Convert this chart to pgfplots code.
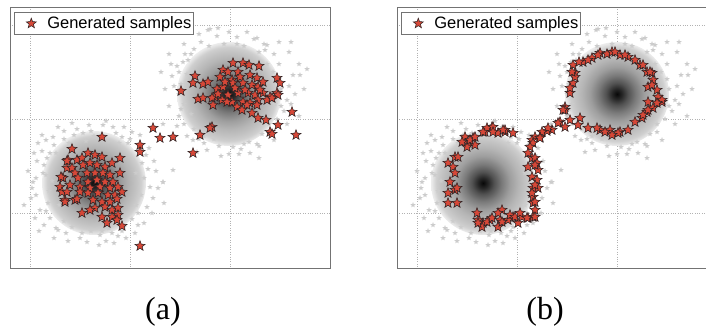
\documentclass[border=0pt]{standalone}
\usepackage{pgfplots}
\pgfplotsset{compat=1.18}
\usepackage{pgfplotstable}
\usepackage{fontspec}
\setmainfont{Liberation Serif}
\newfontfamily\lsans{Liberation Sans}

\definecolor{starred}{RGB}{214,72,56}
\definecolor{staredge}{RGB}{50,35,35}

\pgfdeclareplotmark{fstar}{%
  \pgfpathmoveto{\pgfpointpolar{90}{\pgfplotmarksize}}%
  \pgfpathlineto{\pgfpointpolar{126}{0.42\pgfplotmarksize}}%
  \pgfpathlineto{\pgfpointpolar{162}{\pgfplotmarksize}}%
  \pgfpathlineto{\pgfpointpolar{198}{0.42\pgfplotmarksize}}%
  \pgfpathlineto{\pgfpointpolar{234}{\pgfplotmarksize}}%
  \pgfpathlineto{\pgfpointpolar{270}{0.42\pgfplotmarksize}}%
  \pgfpathlineto{\pgfpointpolar{306}{\pgfplotmarksize}}%
  \pgfpathlineto{\pgfpointpolar{342}{0.42\pgfplotmarksize}}%
  \pgfpathlineto{\pgfpointpolar{18}{\pgfplotmarksize}}%
  \pgfpathlineto{\pgfpointpolar{54}{0.42\pgfplotmarksize}}%
  \pgfpathclose
  \pgfusepathqfillstroke}
\pgfdeclareplotmark{fstarfill}{%
  \pgfpathmoveto{\pgfpointpolar{90}{\pgfplotmarksize}}%
  \pgfpathlineto{\pgfpointpolar{126}{0.42\pgfplotmarksize}}%
  \pgfpathlineto{\pgfpointpolar{162}{\pgfplotmarksize}}%
  \pgfpathlineto{\pgfpointpolar{198}{0.42\pgfplotmarksize}}%
  \pgfpathlineto{\pgfpointpolar{234}{\pgfplotmarksize}}%
  \pgfpathlineto{\pgfpointpolar{270}{0.42\pgfplotmarksize}}%
  \pgfpathlineto{\pgfpointpolar{306}{\pgfplotmarksize}}%
  \pgfpathlineto{\pgfpointpolar{342}{0.42\pgfplotmarksize}}%
  \pgfpathlineto{\pgfpointpolar{18}{\pgfplotmarksize}}%
  \pgfpathlineto{\pgfpointpolar{54}{0.42\pgfplotmarksize}}%
  \pgfpathclose
  \pgfusepathqfill}
\pgfdeclareradialshading{blobshade}{\pgfpointorigin}{%
  color(0bp)=(black!97); color(2.4bp)=(black!85); color(5.3bp)=(black!68);
  color(9bp)=(black!52); color(13bp)=(black!38); color(17bp)=(black!29);
  color(20bp)=(black!24); color(22.6bp)=(black!19); color(25bp)=(black!7);
  color(50bp)=(white)}
\pgfdeclareplotmark{blob}{%
  \pgfpathcircle{\pgfpointorigin}{\pgfplotmarksize}%
  \pgfshadepath{blobshade}{0}%
  \pgfusepath{}}

% gray sample cloud fringe, offsets from blob centre (px, y down)
\pgfplotstableread{
dx dy
-56 -40
-51 -10
-61 -1
-54 27
-36 47
-14 55
-7 59
6 52
56 4
69 -1
41 50
9 -58
19 -56
-11 -50
-41 -46
38 -51
53 24
59 15
-48 -43
-58 12
-47 -25
-45 8
-50 -18
-44 35
-28 50
-22 44
-30 -52
-20 -48
0 -47
28 -46
45 -38
48 -20
50 -5
47 12
44 30
30 44
18 50
-3 48
12 58
-46 20
-52 -32
-40 -38
-30 38
52 -28
36 -44
-62 5
-57 -22
24 53
-17 -54
62 -12
44 42
-38 -30
38 36
-42 -2
42 -10
-35 22
25 -40
-8 -42
15 45
-25 -40
-60 -30
-63 15
-59 35
-50 42
-40 55
-26 58
5 62
20 60
32 55
50 40
58 30
64 5
60 -22
55 -35
46 -48
30 -56
12 -62
-5 -58
-22 -60
-36 -56
-52 -48
-66 -12
-48 -8
-44 -30
-48 28
-38 45
-12 50
8 48
28 48
42 22
46 -30
34 -40
-3 -52
-55 48
70 20
-70 22
22 -50
-30 -44
-58 -5
54 -14
}\fringeL
\pgfplotstableread{
dx dy
-21 -64
-11 -66
8 -57
28 -56
38 -49
-46 -32
-41 -34
64 -19
71 -19
58 6
55 17
21 59
-36 46
4 53
-25 49
33 40
-52 -28
-57 -18
-19 -65
-12 -58
25 -55
35 -50
-56 76
-66 88
-50 0
-48 15
-45 30
-30 45
-10 52
12 55
40 38
48 25
52 -5
50 -30
45 -40
-35 -45
-5 -50
15 -48
-55 -8
-42 -20
-38 20
60 -8
-28 -52
30 -42
46 10
-44 -40
20 48
-15 45
44 -22
-50 -22
0 60
38 -30
-35 35
28 50
62 10
-60 -40
-64 -5
-60 12
-52 32
-42 42
-22 56
-8 62
10 60
30 52
45 46
58 30
66 0
70 -30
60 -42
50 -52
18 -62
0 -62
-30 -60
-45 -50
-58 -30
-48 -10
-45 10
-38 -40
-20 -48
8 -50
36 -44
50 -15
52 12
40 30
15 50
-25 42
-50 22
75 -5
-68 -22
62 -52
78 -25
30 64
-32 58
-66 30
70 22
}\fringeR

% generated samples, panel (a)
\pgfplotstableread{
x y
233 63
243 63
249 65
259 66
223 70
228 72
238 72
195 76
193 83
203 84
208 82
220 77
232 80
240 77
250 75
257 78
263 82
277 78
280 83
181 91
217 89
223 87
233 83
243 83
252 85
258 87
215 97
228 95
238 93
248 93
255 95
263 93
270 97
277 93
278 95
198 99
203 98
212 98
222 100
232 102
243 102
250 103
258 100
267 100
272 98
213 105
237 107
247 105
257 105
242 110
252 113
258 118
266 120
278 125
270 132
272 134
292 112
296 135
212 127
210 128
200 135
173 137
193 153
225 82
235 88
245 90
227 102
218 94
260 90
153 128
160 138
140 145
140 152
140 246
102 137
72 149
88 153
95 155
102 157
120 158
68 160
77 160
82 158
83 165
90 163
97 165
105 167
112 163
67 168
72 168
75 173
87 173
95 173
103 173
110 175
120 173
63 178
78 178
88 182
97 180
105 182
113 182
60 187
70 185
80 187
90 188
100 187
110 188
118 187
122 192
62 192
67 192
80 192
88 193
98 193
108 195
115 195
65 200
75 200
93 200
102 202
110 202
117 199
95 208
105 207
112 210
118 208
82 213
90 210
102 217
112 217
118 215
107 223
117 220
122 226
67 161
61 177
65 202
77 199
}\starsA

% generated samples, panel (b)
\pgfplotstableread{
x y
573 65
575 73
583 62
592 58
600 53
607 54
612 52
620 55
628 57
635 60
640 65
647 72
652 73
653 80
648 87
657 90
658 97
662 102
648 102
653 108
647 112
642 118
635 122
628 130
620 132
610 130
600 130
597 128
588 128
580 118
578 125
570 120
560 122
565 107
565 110
570 93
573 83
575 77
579 62
572 72
588 60
598 55
615 52
625 55
643 65
650 72
652 85
662 100
657 103
648 110
643 115
618 133
612 135
605 132
565 127
563 110
570 88
558 123
552 130
547 131
548 128
542 132
540 137
535 137
532 140
533 143
540 138
530 147
528 153
532 158
535 158
537 163
538 170
532 177
537 180
533 188
538 188
533 197
533 203
535 210
533 217
528 167
535 165
535 185
532 193
535 202
528 218
522 217
518 223
513 217
508 220
500 220
498 227
490 220
483 223
482 227
478 220
477 213
502 210
478 223
487 222
492 218
498 213
502 222
510 215
515 217
520 213
527 218
535 217
455 157
448 163
453 167
455 173
450 182
448 193
455 190
448 203
457 203
457 188
458 157
465 137
468 143
473 138
475 145
467 147
470 140
462 142
485 132
492 127
498 133
505 132
513 133
487 128
493 127
505 130
475 137
483 132
503 130
493 132
}\starsB

\pgfplotsset{
  panel/.style={
    width=320pt, height=261pt, scale only axis,
    y dir=reverse, ymin=7, ymax=268,
    ytick={25,119,213},
    xticklabels={}, yticklabels={},
    major tick length=0pt,
    grid=major,
    grid style={dotted, black!30, line width=0.6pt},
    axis line style={black!55, line width=0.7pt},
    legend cell align=left,
    legend style={at={(0.0125,0.981)}, anchor=north west,
      draw=black!55, fill=white, line width=0.6pt,
      font=\lsans\fontsize{16.5}{19}\selectfont,
      inner xsep=1pt, inner ysep=3.5pt,
      nodes={inner sep=1pt}},
    legend image code/.code={%
      \path[draw=none, fill=none] (0pt,-4pt) rectangle (31pt,4pt);
      \draw[##1] plot coordinates {(16pt,0pt)};},
  },
  gen/.style={only marks, mark=fstar, mark size=5.3pt,
    mark options={fill=starred, draw=staredge, line width=0.55pt}},
  cloud/.style={only marks, mark=fstarfill, mark size=2.9pt,
    mark options={fill=black!20}, forget plot},
}

\begin{document}
\begin{tikzpicture}[x=1pt,y=1pt]
\useasboundingbox (0,0) rectangle (706,328);
\clip (0,0) rectangle (706,328);

\begin{axis}[panel, at={(10pt,60pt)}, anchor=south west,
  xmin=10, xmax=330, xtick={30,130,230,330}]
  \addplot[only marks, mark=blob, mark size=52pt, forget plot]
    coordinates {(94,183) (229,94)};
  \addplot[cloud] table[x expr=\thisrow{dx}+94, y expr=\thisrow{dy}+183] {\fringeL};
  \addplot[cloud] table[x expr=\thisrow{dx}+229, y expr=\thisrow{dy}+94] {\fringeR};
  \addplot[gen] table[x=x, y=y] {\starsA};
  \addlegendentry{Generated samples}
\end{axis}

\begin{axis}[panel, at={(397pt,60pt)}, anchor=south west,
  xmin=397, xmax=717, xtick={417,517,617,717}]
  \addplot[only marks, mark=blob, mark size=52pt, forget plot]
    coordinates {(483,183) (617,94)};
  \addplot[cloud] table[x expr=\thisrow{dx}+483, y expr=\thisrow{dy}+183] {\fringeL};
  \addplot[cloud] table[x expr=\thisrow{dx}+617, y expr=\thisrow{dy}+94] {\fringeR};
  \addplot[gen] table[x=x, y=y] {\starsB};
  \addlegendentry{Generated samples}
\end{axis}

\node[anchor=base, font=\fontsize{32}{36}\selectfont] at (163,8) {(a)};
\node[anchor=base, font=\fontsize{32}{36}\selectfont] at (545,8) {(b)};
\end{tikzpicture}
\end{document}
